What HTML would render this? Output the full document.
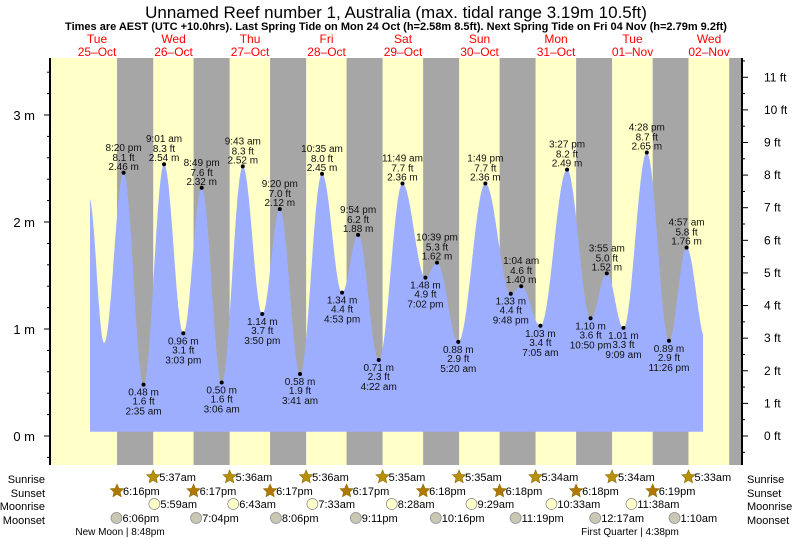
<!DOCTYPE html>
<html><head><meta charset="utf-8"><style>
html,body{margin:0;padding:0;background:#fff;}
svg{display:block;font-family:"Liberation Sans",sans-serif;}
</style></head><body>
<svg id="chart" width="793" height="539" xmlns="http://www.w3.org/2000/svg">
<text x="396" y="18" font-size="17" text-anchor="middle">Unnamed Reef number 1, Australia (max. tidal range 3.19m 10.5ft)</text>
<text x="396" y="30" font-size="11" font-weight="bold" text-anchor="middle">Times are AEST (UTC +10.0hrs). Last Spring Tide on Mon 24 Oct (h=2.58m 8.5ft). Next Spring Tide on Fri 04 Nov (h=2.79m 9.2ft)</text>
<g id="bg"></g><g id="tide"></g><g id="axes"></g><g id="labels"></g><g id="astro"></g>
</svg>
<script>
// ---- data ----
const dayNames = ["Tue","Wed","Thu","Fri","Sat","Sun","Mon","Tue","Wed"];
const dayDates = ["25-Oct","26-Oct","27-Oct","28-Oct","29-Oct","30-Oct","31-Oct","01-Nov","02-Nov"];
// extreme times in hours from 25-Oct 00:00
const tideHours = [9.5,14.2,20.33,26.58,33.02,39.05,44.82,51.1,57.72,63.83,69.33,75.68,82.58,88.88,93.9,100.37,107.82,115.03,118.65,125.33,133.82,141.8,145.07,151.08,159.45,166.83,171.92,177.15,184.47,191.43,196.95,203.0];
const tideVals = [2.23,0.87,2.46,0.48,2.54,0.96,2.32,0.50,2.52,1.14,2.12,0.58,2.45,1.34,1.88,0.71,2.36,1.48,1.62,0.88,2.36,1.33,1.40,1.03,2.49,1.10,1.52,1.01,2.65,0.89,1.76,0.90];
const tideLabel = [null,null,"8:20 pm","2:35 am","9:01 am","3:03 pm","8:49 pm","3:06 am","9:43 am","3:50 pm","9:20 pm","3:41 am","10:35 am","4:53 pm","9:54 pm","4:22 am","11:49 am","7:02 pm","10:39 pm","5:20 am","1:49 pm","9:48 pm","1:04 am","7:05 am","3:27 pm","10:50 pm","3:55 am","9:09 am","4:28 pm","11:26 pm","4:57 am",null];
const sunriseHours = [29.62,53.6,77.6,101.58,125.58,149.57,173.57,197.55];
const sunriseText = ["5:37am","5:36am","5:36am","5:35am","5:35am","5:34am","5:34am","5:33am"];
const sunsetHours = [18.27,42.28,66.28,90.28,114.3,138.3,162.3,186.32];
const sunsetText = ["6:16pm","6:17pm","6:17pm","6:17pm","6:18pm","6:18pm","6:18pm","6:19pm"];
const lastSunsetHour = 210.32;
const moonriseHours = [29.98,54.72,79.55,104.47,129.48,154.55,179.63];
const moonriseText = ["5:59am","6:43am","7:33am","8:28am","9:29am","10:33am","11:38am"];
const moonsetHours = [18.1,43.07,68.1,93.18,118.27,143.32,168.28,193.17];
const moonsetText = ["6:06pm","7:04pm","8:06pm","9:11pm","10:16pm","11:19pm","12:17am","1:10am"];
const mTicks = [0,1,2,3];
const ftTicks = [0,1,2,3,4,5,6,7,8,9,10,11];

// ---- scales ----
const X0=58.8, PPD=76.5, L=50, R=742, T=58, B=465;
const x = h => X0 + h/24*PPD;
const y = m => 436 - m*107;
const yft = f => 436 - f*0.3048*107;
const NS="http://www.w3.org/2000/svg";
function mk(tag, attrs, parent, txt){const e=document.createElementNS(NS,tag);for(const k in attrs)e.setAttribute(k,attrs[k]);if(txt!==undefined)e.textContent=txt;parent.appendChild(e);return e;}
const bg=document.getElementById('bg'), tide=document.getElementById('tide'), axes=document.getElementById('axes'), labels=document.getElementById('labels'), astro=document.getElementById('astro');

// background
let r=mk('rect',{x:L,y:T,width:R-L,height:B-T,fill:'#ffffc8'},bg);


const allSunsets = sunsetHours.concat([lastSunsetHour]);
for(let i=0;i<allSunsets.length;i++){
  const x1=x(allSunsets[i]); const x2=i<sunriseHours.length?x(sunriseHours[i]):R;
  const n=mk('rect',{x:x1,y:T,width:Math.min(x2,R)-x1,height:B-T,fill:'#a6a6a6'},bg);
  
  
}
// day labels
for(let i=0;i<dayNames.length;i++){
  const cx=x(i*24+12);
  const t1=mk('text',{x:cx,y:43,'font-size':12,fill:'#ff0000','text-anchor':'middle'},labels,dayNames[i]);
  
  
  const t2=mk('text',{x:cx,y:56,'font-size':12,fill:'#ff0000','text-anchor':'middle'},labels,dayDates[i].replace('-','\u2013'));
  
  
}
// tide curve (cosine interpolation between extremes)
const hStart=9.8, hEnd=202.1, base=0.04;
let pts=[];
function val(h){
  for(let i=0;i<tideHours.length-1;i++){
    if(h>=tideHours[i]&&h<=tideHours[i+1]){
      const f=(h-tideHours[i])/(tideHours[i+1]-tideHours[i]);
      return tideVals[i]+(tideVals[i+1]-tideVals[i])*(1-Math.cos(Math.PI*f))/2;
    }
  }
  return tideVals[tideVals.length-1];
}
for(let h=hStart;h<=hEnd;h+=0.1){pts.push(x(h).toFixed(1)+','+y(val(h)).toFixed(1));}
pts.push(x(hEnd).toFixed(1)+','+y(val(hEnd)).toFixed(1));
const poly=mk('polygon',{points:x(hStart)+','+y(base)+' '+pts.join(' ')+' '+x(hEnd)+','+y(base),fill:'#9daeff'},tide);



// axes
const la=mk('line',{x1:L,y1:T,x2:L,y2:B,stroke:'#000','stroke-width':2},axes);


const ra=mk('line',{x1:R,y1:T,x2:R,y2:B,stroke:'#000','stroke-width':2},axes);


for(let v=-0.2;v<=3.8;v+=0.2){
  const yy=y(v); if(yy<T||yy>B) continue;
  const major=Math.abs(v-Math.round(v))<0.01;
  mk('line',{x1:L-(major?6:3),y1:yy,x2:L,y2:yy,stroke:'#000','stroke-width':1},axes);
}
mTicks.forEach(m=>{
  const t=mk('text',{x:L-15,y:y(m)+5,'font-size':13,'text-anchor':'end'},axes,m+' m');
  
  
});
for(let f=-0.5;f<=12;f+=0.5){
  const yy=yft(f); if(yy<T||yy>B) continue;
  const major=Math.abs(f-Math.round(f))<0.01;
  mk('line',{x1:R,y1:yy,x2:R+(major?6:3),y2:yy,stroke:'#000','stroke-width':1},axes);
}
ftTicks.forEach(f=>{
  const t=mk('text',{x:R+22,y:yft(f)+4,'font-size':12},axes,f+' ft');
  
  
});

// extreme labels
for(let i=0;i<tideHours.length;i++){
  if(!tideLabel[i]) continue;
  const cx=x(tideHours[i]), cy=y(tideVals[i]);
  const high = (i>0 && tideVals[i]>tideVals[i-1]);
  const d=mk('circle',{cx:cx,cy:cy,r:2,fill:'#000'},labels);
  
  
  const ft=(tideVals[i]/0.3048).toFixed(1)+' ft', mm=tideVals[i].toFixed(2)+' m';
  const lines = high ? [[tideLabel[i],-22],[ft,-12],[mm,-3]] : [[mm,11],[ft,20],[tideLabel[i],30]];
  lines.forEach(l=>{
    const t=mk('text',{x:cx,y:cy+l[1],'font-size':10,'text-anchor':'middle',fill:'#111'},labels,l[0]);
    
    
  });
}

// astro rows
const rows=[["Sunrise",479],["Sunset",493],["Moonrise",506],["Moonset",520]];
rows.forEach(rw=>{
  const a=mk('text',{x:45,y:rw[1]+4,'font-size':11,'text-anchor':'end'},astro,rw[0]);
  
  
  const b=mk('text',{x:747,y:rw[1]+4,'font-size':11},astro,rw[0]);
  
  
});
function star(cx,cy,fill){
  let p=[];for(let k=0;k<10;k++){const a=-Math.PI/2+k*Math.PI/5;const rr=k%2?3.2:7;p.push((cx+rr*Math.cos(a)).toFixed(1)+','+(cy+rr*Math.sin(a)).toFixed(1));}
  return mk('polygon',{points:p.join(' '),fill:fill,stroke:'#8a6a00','stroke-width':0.6},astro);
}
function evRow(hours,texts,yy,kind){
  for(let i=0;i<hours.length;i++){
    const cx=x(hours[i]);
    let ic;
    if(kind==='sunrise') ic=star(cx,yy,'#b8900a');
    else if(kind==='sunset') ic=star(cx,yy,'#b07800');
    else ic=mk('circle',{cx:cx,cy:yy,r:5.5,fill:kind==='moonrise'?'#ffffc8':'#c8c8b4',stroke:'#888','stroke-width':0.7},astro);
    
    
    const t=mk('text',{x:cx+6,y:yy+4,'font-size':11},astro,texts[i]);
    
    
  }
}
evRow(sunriseHours,sunriseText,477,'sunrise');
evRow(sunsetHours,sunsetText,491,'sunset');
evRow(moonriseHours,moonriseText,504,'moonrise');
evRow(moonsetHours,moonsetText,518,'moonset');
const nm=mk('text',{x:120,y:535,'font-size':10,'text-anchor':'middle'},astro,'New Moon | 8:48pm');


const fq=mk('text',{x:630,y:535,'font-size':10,'text-anchor':'middle'},astro,'First Quarter | 4:38pm');


</script>
</body></html>
